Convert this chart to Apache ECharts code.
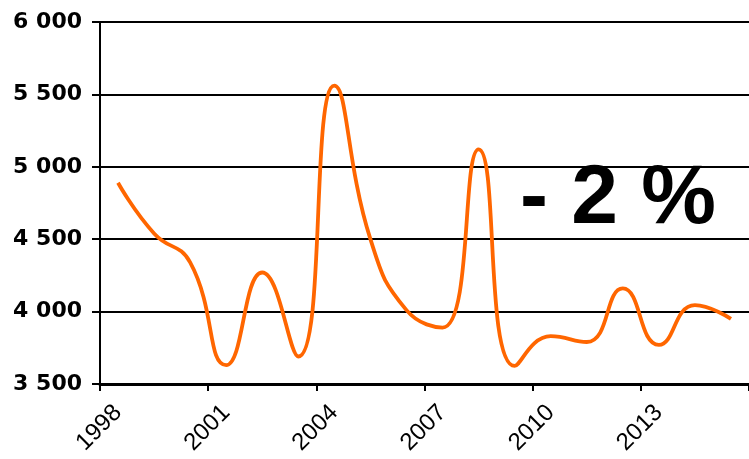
<!DOCTYPE html>
<html>
<head>
<meta charset="utf-8">
<script src="https://cdn.jsdelivr.net/npm/echarts@6/dist/echarts.min.js"></script>
<style>
html,body{margin:0;padding:0;background:#fff;}
#c{width:749px;height:459px;}
</style>
</head>
<body>
<div id="c"></div>
<script>
var years = ['1998','1999','2000','2001','2002','2003','2004','2005','2006','2007','2008','2009','2010','2011','2012','2013','2014','2015'];
var values = [4890, 4540, 4340, 3630, 4270, 3690, 5560, 4500, 4010, 3890, 5120, 3625, 3830, 3790, 4160, 3770, 4045, 3950];
var yTicks = [3500, 4000, 4500, 5000, 5500, 6000];
var annotation = '- 2 %';

var chart = echarts.init(document.getElementById('c'), null, {renderer: 'canvas'});
var font = '"Liberation Sans", Arial, sans-serif';
chart.setOption({
  animation: false,
  grid: {left: 100, top: 22, width: 650, height: 362, containLabel: false},
  xAxis: {
    type: 'category',
    data: years,
    boundaryGap: true,
    axisLine: {lineStyle: {color: '#000', width: 3}},
    axisTick: {show: true, interval: 2, length: 7, lineStyle: {color: '#000', width: 2}},
    axisLabel: {interval: 2, rotate: 45, margin: 25, color: '#000', fontSize: 24, fontFamily: font}
  },
  yAxis: {
    type: 'value',
    min: yTicks[0],
    max: yTicks[yTicks.length - 1],
    interval: 500,
    axisLine: {show: true, lineStyle: {color: '#000', width: 2}},
    axisTick: {show: true, length: 8, lineStyle: {color: '#000', width: 2}},
    splitLine: {lineStyle: {color: '#000', width: 2}},
    axisLabel: {
      margin: 18, color: '#000', fontSize: 22, fontWeight: 'bold', fontFamily: '"DejaVu Sans", sans-serif',
      formatter: function (v) { return String(v).replace(/\B(?=(\d{3})+(?!\d))/g, ' '); }
    }
  },
  series: [{
    type: 'line',
    data: values,
    smooth: 0.5,
    symbol: 'none',
    lineStyle: {color: '#FF6600', width: 3.8}
  }],
  graphic: [{
    type: 'text',
    left: 520,
    top: 158,
    style: {text: annotation, fill: '#000', font: 'bold 84px ' + font}
  }]
});
</script>
</body>
</html>
